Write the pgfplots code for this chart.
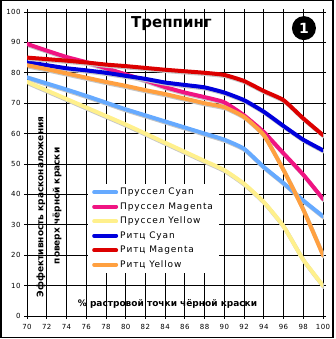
\documentclass[border=0pt]{standalone}
\usepackage{pgfplots}
\pgfplotsset{compat=1.18}
\usepackage{fontspec}
\setmainfont{DejaVu Sans}
\newfontfamily\legfont[LetterSpace=10]{DejaVu Sans}
\newfontfamily\tickfont[LetterSpace=6]{DejaVu Sans}
\definecolor{pc}{RGB}{102,170,255}
\definecolor{pm}{RGB}{240,20,130}
\definecolor{py}{RGB}{255,240,140}
\definecolor{rc}{RGB}{0,0,220}
\definecolor{rm}{RGB}{220,0,0}
\definecolor{ry}{RGB}{255,160,64}
\pgfplotsset{
  curve/.style={line width=4pt, line join=round, line cap=round, smooth, tension=0.3},
  shadow/.style={line width=4pt, line join=round, line cap=round, smooth, tension=0.3, draw=black!22, forget plot, shift={(0.8pt,-1.3pt)}},
}
\pgfplotstableread{
x pc pm py rc rm ry
70 78.5 89.5 77 83.5 85 82.5
72 76.5 87.3 74.2 82.5 84.5 81.2
74 74.5 85.2 71.4 81.5 84 79.8
76 72.4 83.5 68.6 80.8 83.4 78.4
78 70.2 81.5 65.8 80 82.7 77
80 68 79.5 63 79 82.2 75.7
82 66 77.5 60 78 81.6 74.3
84 64 75.3 57 76.8 81 73
86 62 73.5 54 76 80.5 71.5
88 60 72 51 75.2 80 70
90 58 70.3 48 73.5 79.3 68.7
92 55 66 43.5 71 77.3 65.5
94 49 60.5 37.5 67.2 74 59.5
96 43.7 53.5 29.5 62.5 71 48
98 38 46.5 18.5 58 65 35
100 32.8 38.5 10 54.5 59.5 20
}\data
\begin{document}
\begin{tikzpicture}
\begin{axis}[
  name=ax,
  at={(27pt,23pt)}, anchor=south west, scale only axis,
  width=296pt, height=304pt,
  xmin=70, xmax=100, ymin=0, ymax=100,
  xtick={70,72,...,100}, ytick={0,10,...,100},
  grid=major, major grid style={black, line width=0.8pt},
  axis line style={black, line width=0.8pt},
  tick style={black, line width=0.8pt},
  tick align=outside, major tick length=3pt,
  tick label style={font=\tickfont\fontsize{7}{8}\selectfont},
  xticklabel style={yshift=-1.5pt},
  /pgf/number format/assume math mode=true,
  clip mode=individual,
  legend cell align=left,
  legend image code/.code={\draw[#1] (0pt,0pt) -- (22pt,0pt);},
  legend style={at={(0.206,0.434)}, anchor=north west, draw=none, fill=white,
    inner xsep=4pt, inner ysep=3pt, row sep=4.5pt,
    font=\legfont\fontsize{9}{10}\selectfont,
    nodes={inner ysep=0pt, inner xsep=2pt, text height=7.5pt, text depth=2.5pt}},
]
\addplot[shadow] table[x=x,y=pc] {\data};
\addplot[curve, color=pc] table[x=x,y=pc] {\data};
\addlegendentry{Пруссел Cyan}
\addplot[shadow] table[x=x,y=pm] {\data};
\addplot[curve, color=pm] table[x=x,y=pm] {\data};
\addlegendentry{Пруссел Magenta}
\addplot[shadow] table[x=x,y=py] {\data};
\addplot[curve, color=py] table[x=x,y=py] {\data};
\addlegendentry{Пруссел Yellow}
\addplot[shadow] table[x=x,y=rc] {\data};
\addplot[curve, color=rc] table[x=x,y=rc] {\data};
\addlegendentry{Ритц Cyan}
\addplot[shadow] table[x=x,y=rm] {\data};
\addplot[curve, color=rm] table[x=x,y=rm] {\data};
\addlegendentry{Ритц Magenta}
\addplot[shadow] table[x=x,y=ry] {\data};
\addplot[curve, color=ry] table[x=x,y=ry] {\data};
\addlegendentry{Ритц Yellow}
\node[font=\bfseries\fontsize{15}{16}\selectfont] at (axis cs:84.64,96.3) {Треппинг};
\node[circle, fill=black, minimum size=24pt, inner sep=0pt, text=white, font=\bfseries\fontsize{14}{15}\selectfont] at (axis cs:98.07,94.7) {1};
\node[font=\bfseries\fontsize{9}{10}\selectfont] at (axis cs:84.24,4.1) {\% растровой точки чёрной краски};
\node[rotate=90, font=\bfseries\fontsize{9}{10}\selectfont] at (axis cs:71.42,35.9) {Эффективность красконаложения};
\node[rotate=90, font=\bfseries\fontsize{9}{10}\selectfont] at (axis cs:73.04,36.2) {поверх чёрной краски};
\end{axis}
\draw[line width=1.5pt] ([shift={(-26.25pt,-21.5pt)}]ax.south west) rectangle ([shift={(10pt,11.25pt)}]ax.north east);
\pgfresetboundingbox
\path[use as bounding box] ([shift={(-27pt,-23pt)}]ax.south west) rectangle ([shift={(13pt,12pt)}]ax.north east);
\end{tikzpicture}
\end{document}
